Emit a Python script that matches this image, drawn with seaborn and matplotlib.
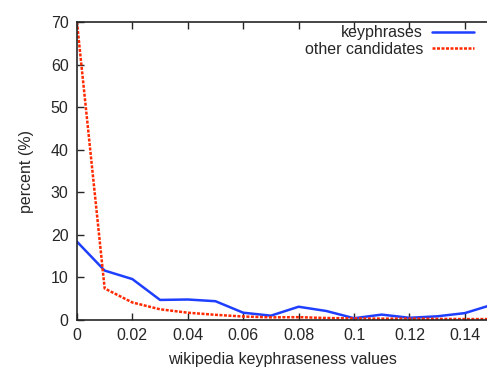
import pandas as pd
import matplotlib
matplotlib.use('Agg')
import matplotlib.pyplot as plt
import seaborn as sns

# data
x_values = [0.00, 0.01, 0.02, 0.03, 0.04, 0.05, 0.06, 0.07, 0.08, 0.09,
            0.10, 0.11, 0.12, 0.13, 0.14, 0.15]
keyphrases = [18.4, 11.6, 9.6, 4.7, 4.8, 4.4, 1.7, 1.0, 3.1, 2.1,
              0.4, 1.25, 0.5, 0.85, 1.6, 3.6]
other_candidates = [70.0, 7.4, 4.1, 2.5, 1.7, 1.2, 0.8, 0.6, 0.65, 0.45,
                    0.35, 0.3, 0.3, 0.25, 0.2, 0.2]
series_names = ['keyphrases', 'other candidates']

df = pd.DataFrame({
    'x': x_values * 2,
    'percent': keyphrases + other_candidates,
    'series': [series_names[0]] * len(x_values) + [series_names[1]] * len(x_values),
})

sns.set_style('ticks')
plt.rcParams['font.family'] = ['Liberation Sans', 'DejaVu Sans']

fig = plt.figure(figsize=(4.87, 3.69), dpi=100)
ax = fig.add_axes([0.158, 0.133, 0.842, 0.807])

sns.lineplot(data=df, x='x', y='percent', hue='series', style='series',
             palette={'keyphrases': '#1f3fff', 'other candidates': '#ff2a00'},
             dashes={'keyphrases': '', 'other candidates': (1.2, 0.6)},
             linewidth=1.8, ax=ax)

ax.set_xlim(0, 0.148)
ax.set_ylim(0, 70)
ax.set_xticks([0, 0.02, 0.04, 0.06, 0.08, 0.1, 0.12, 0.14])
ax.set_xticklabels(['0', '0.02', '0.04', '0.06', '0.08', '0.1', '0.12', '0.14'])
ax.set_yticks(range(0, 71, 10))
ax.tick_params(direction='in', top=True, right=False, labelsize=11.5, length=5, width=1, pad=6)
ax.set_xlabel('wikipedia keyphraseness values', fontsize=11.5, labelpad=6)
ax.set_ylabel('percent (%)', fontsize=11.5, labelpad=12)
for s in ax.spines.values():
    s.set_linewidth(1.2)
ax.spines['right'].set_visible(False)

ax.legend(loc='upper right', frameon=False, markerfirst=False, fontsize=11.5,
          handlelength=2.6, labelspacing=0.1, borderaxespad=0.0, handletextpad=0.6,
          borderpad=0.3, bbox_to_anchor=(0.98, 1.005))
for t in ax.get_legend().get_texts():
    t.set_ha('right')

fig.savefig('out.png', dpi=100)
